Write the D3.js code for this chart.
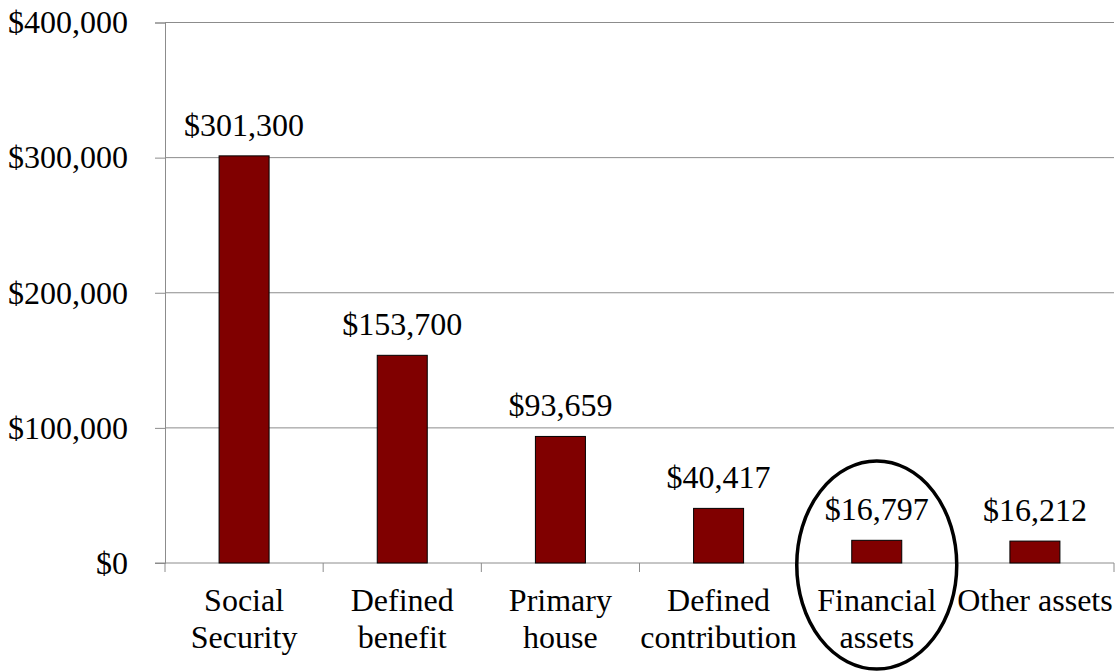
<!DOCTYPE html>
<html>
<head>
<meta charset="utf-8">
<script src="https://cdn.jsdelivr.net/npm/d3@7"></script>
<style>
body { margin: 0; background: #fff; }
text { font-family: "Liberation Serif", "Times New Roman", serif; fill: #000; }
</style>
</head>
<body>
<div id="chart"></div>
<script>
// data
var categories = ["Social Security", "Defined benefit", "Primary house", "Defined contribution", "Financial assets", "Other assets"];
var labelLines = [["Social", "Security"], ["Defined", "benefit"], ["Primary", "house"], ["Defined", "contribution"], ["Financial", "assets"], ["Other assets"]];
var values = [301300, 153700, 93659, 40417, 16797, 16212];
var yTicks = [0, 100000, 200000, 300000, 400000];
var highlighted = "Financial assets";

var width = 1115, height = 671;
// plot box (note: "top" is taken by window.top, so use other names)
var plotLeft = 165, plotRight = 1114, plotTop = 22.5, plotBottom = 563;
var fontSize = "32px";
var serif = "'Liberation Serif', 'Times New Roman', serif";

var svg = d3.select("#chart").append("svg")
	.attr("width", width)
	.attr("height", height);

var x = d3.scaleBand()
	.domain(categories)
	.range([plotLeft, plotRight])
	.paddingInner(0)
	.paddingOuter(0);

var y = d3.scaleLinear()
	.domain([0, 400000])
	.range([plotBottom, plotTop]);

var money = d3.format("$,");

// gridlines
svg.append("g")
	.selectAll("line")
	.data(yTicks.slice(1))
	.enter().append("line")
	.attr("x1", plotLeft)
	.attr("x2", plotRight)
	.attr("y1", function (d) { return y(d); })
	.attr("y2", function (d) { return y(d); })
	.style("stroke", "#8c8c8c")
	.style("stroke-width", 1);

// y axis
var yAxis = svg.append("g")
	.attr("transform", "translate(" + plotLeft + ",0)")
	.call(d3.axisLeft(y).tickValues(yTicks).tickSize(10).tickPadding(27).tickFormat(money));
yAxis.select(".domain").style("stroke", "#8c8c8c");
yAxis.selectAll(".tick line").style("stroke", "#8c8c8c");
yAxis.selectAll("text")
	.style("font-size", fontSize)
	.style("font-family", serif)
	.attr("dy", "0.32em");

// x axis (ticks at band edges)
var xAxisG = svg.append("g");
xAxisG.append("line")
	.attr("x1", plotLeft - 10).attr("x2", plotRight)
	.attr("y1", plotBottom).attr("y2", plotBottom)
	.style("stroke", "#8c8c8c");
var edges = categories.map(function (d) { return x(d); }).concat([plotRight]);
xAxisG.selectAll(".edge")
	.data(edges)
	.enter().append("line")
	.attr("class", "edge")
	.attr("x1", function (d) { return d; })
	.attr("x2", function (d) { return d; })
	.attr("y1", plotBottom)
	.attr("y2", plotBottom + 9)
	.style("stroke", "#8c8c8c");

// bars
var barW = 50;
svg.selectAll(".bar")
	.data(values)
	.enter().append("rect")
	.attr("class", "bar")
	.attr("x", function (d, i) { return x(categories[i]) + x.bandwidth() / 2 - barW / 2; })
	.attr("y", function (d) { return y(d); })
	.attr("width", barW)
	.attr("height", function (d) { return y(0) - y(d); })
	.style("fill", "#800000")
	.style("stroke", "#000")
	.style("stroke-width", 1);

// value labels
svg.selectAll(".val")
	.data(values)
	.enter().append("text")
	.attr("class", "val")
	.attr("x", function (d, i) { return x(categories[i]) + x.bandwidth() / 2; })
	.attr("y", function (d) { return y(d) - 20; })
	.attr("text-anchor", "middle")
	.style("font-family", serif)
	.style("font-size", fontSize)
	.text(function (d) { return money(d); });

// category labels
var cat = svg.selectAll(".cat")
	.data(categories)
	.enter().append("text")
	.attr("class", "cat")
	.attr("x", function (d) { return x(d) + x.bandwidth() / 2; })
	.attr("y", 611)
	.attr("text-anchor", "middle")
	.style("font-family", serif)
	.style("font-size", fontSize);
cat.selectAll("tspan")
	.data(function (d, i) { return labelLines[i]; })
	.enter().append("tspan")
	.attr("x", function () { return d3.select(this.parentNode).attr("x"); })
	.attr("dy", function (d, i) { return i === 0 ? 0 : 37; })
	.text(function (d) { return d; });

// circle round the highlighted category
svg.append("ellipse")
	.attr("cx", x(highlighted) + x.bandwidth() / 2)
	.attr("cy", 565)
	.attr("rx", 80)
	.attr("ry", 104)
	.style("fill", "none")
	.style("stroke", "#000")
	.style("stroke-width", 3.5);
</script>
</body>
</html>
